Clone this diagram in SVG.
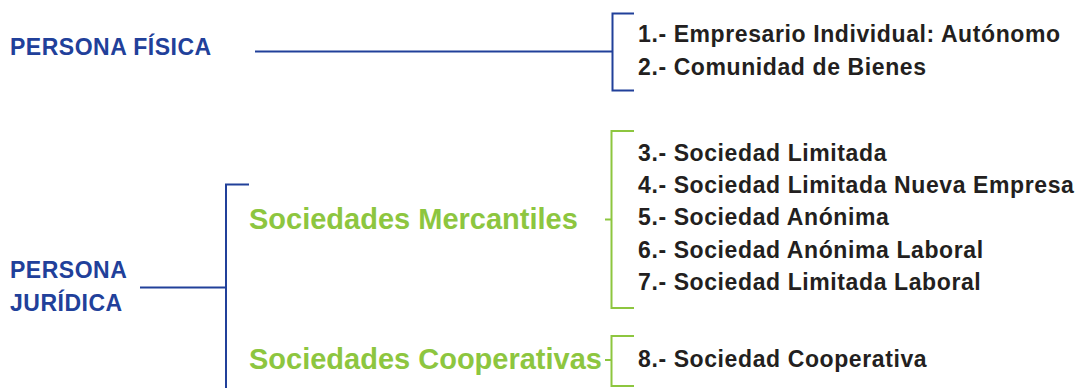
<svg xmlns="http://www.w3.org/2000/svg" width="1086" height="388" viewBox="0 0 1086 388">
  <style>
    .blue { fill: #21409a; font-family: "Liberation Sans", Arial, sans-serif; font-weight: bold; font-size: 23px; letter-spacing: 0.5px; }
    .green { fill: #8dc63f; font-family: "Liberation Sans", Arial, sans-serif; font-weight: bold; font-size: 29px; }
    .item { fill: #231f20; font-family: "Liberation Sans", Arial, sans-serif; font-weight: bold; font-size: 23px; letter-spacing: 0.6px; }
    .lb { fill: none; stroke: #21409a; stroke-width: 2; }
    .lg { fill: none; stroke: #8dc63f; stroke-width: 2; }
  </style>
  <rect width="1086" height="388" fill="#ffffff"/>
  <g id="connectors">
    <path class="lb" d="M255 51.5 H612.5"/>
    <path class="lb" d="M634 13.5 H612.5 V90.5 H634"/>
    <path class="lb" d="M140 287.5 H226"/>
    <path class="lb" d="M249 184.5 H226 V388"/>
    <path class="lg" d="M634 131 H611.5 V308 H634"/>
    <path class="lg" d="M605 219.5 H611.5"/>
    <path class="lg" d="M634 336 H611.5 V386 H634"/>
    <path class="lg" d="M605 360 H611.5"/>
  </g>
  <g id="persona-fisica">
    <text class="blue" x="10" y="55">PERSONA FÍSICA</text>
  </g>
  <g id="persona-juridica">
    <text class="blue" x="10" y="278">PERSONA</text>
    <text class="blue" x="10" y="311">JURÍDICA</text>
  </g>
  <g id="sociedades-mercantiles">
    <text class="green" x="249" y="228.5">Sociedades Mercantiles</text>
  </g>
  <g id="sociedades-cooperativas">
    <text class="green" x="249" y="368.5">Sociedades Cooperativas</text>
  </g>
  <g id="list-fisica">
    <text class="item" x="638" y="42">1.- Empresario Individual: Autónomo</text>
    <text class="item" x="638" y="74.5">2.- Comunidad de Bienes</text>
  </g>
  <g id="list-mercantiles">
    <text class="item" x="638" y="161">3.- Sociedad Limitada</text>
    <text class="item" x="638" y="193">4.- Sociedad Limitada Nueva Empresa</text>
    <text class="item" x="638" y="225">5.- Sociedad Anónima</text>
    <text class="item" x="638" y="257.5">6.- Sociedad Anónima Laboral</text>
    <text class="item" x="638" y="290">7.- Sociedad Limitada Laboral</text>
  </g>
  <g id="list-cooperativas">
    <text class="item" x="638" y="367">8.- Sociedad Cooperativa</text>
  </g>
</svg>
